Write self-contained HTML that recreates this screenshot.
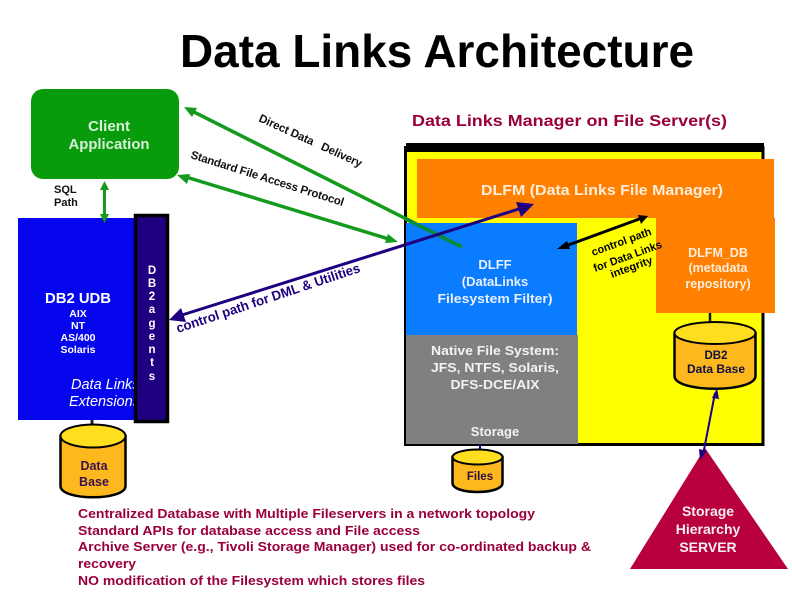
<!DOCTYPE html>
<html><head><meta charset="utf-8"><style>
html,body{margin:0;padding:0;background:#fff;width:792px;height:612px;overflow:hidden}
svg{display:block;font-family:"Liberation Sans",sans-serif}
</style></head><body>
<svg width="792" height="612" viewBox="0 0 792 612" xmlns="http://www.w3.org/2000/svg">
<text x="180" y="67" font-size="46" font-weight="bold" textLength="514" lengthAdjust="spacingAndGlyphs" fill="#000">Data Links Architecture</text>
<text x="412" y="126" font-size="16" font-weight="bold" textLength="315" lengthAdjust="spacingAndGlyphs" fill="#99003c">Data Links Manager on File Server(s)</text>

<!-- client -->
<rect x="31" y="89" width="148" height="90" rx="12" fill="#089c0c"/>
<g fill="#d8f0d8" font-size="14.500" text-anchor="middle" font-weight="bold">
<text x="109" y="131" textLength="42" lengthAdjust="spacingAndGlyphs">Client</text>
<text x="109" y="149" textLength="81" lengthAdjust="spacingAndGlyphs">Application</text>
</g>
<g font-size="11" font-weight="bold" fill="#111">
<text x="54" y="193">SQL</text><text x="54" y="206">Path</text></g>

<!-- DB2 -->
<rect x="18" y="218" width="118" height="202" fill="#0505ee"/>
<text x="78" y="303" font-size="15" font-weight="bold" fill="#fff" text-anchor="middle" textLength="66" lengthAdjust="spacingAndGlyphs">DB2 UDB</text>
<g font-size="10.500" fill="#fff" text-anchor="middle" font-weight="bold">
<text x="78" y="317">AIX</text><text x="78" y="329">NT</text><text x="78" y="341">AS/400</text><text x="78" y="353">Solaris</text></g>
<g font-size="14.500" font-style="italic" fill="#fff">
<text x="71" y="389">Data Links</text><text x="69" y="406">Extensions</text></g>
<rect x="135.500" y="215.500" width="32" height="206" fill="#1f0080" stroke="#000" stroke-width="3.500"/>
<g font-size="11.500" font-weight="bold" fill="#fff" text-anchor="middle">
<text x="152" y="274">D</text><text x="152" y="287">B</text><text x="152" y="300">2</text><text x="152" y="313">a</text><text x="152" y="327">g</text><text x="152" y="340">e</text><text x="152" y="353">n</text><text x="152" y="366">t</text><text x="152" y="380">s</text></g>

<!-- cylinder Data Base -->
<line x1="92" y1="420" x2="92" y2="428" stroke="#222" stroke-width="3"/>
<path d="M60.500 436V486C60.500 501 125.500 501 125.500 486V436Z" fill="#fdb81d" stroke="#000" stroke-width="2.500"/>
<ellipse cx="93" cy="436" rx="32.500" ry="11.500" fill="#ffdd1f" stroke="#000" stroke-width="2"/>
<g font-size="12.500" font-weight="bold" fill="#3a1050" text-anchor="middle">
<text x="94" y="470">Data</text><text x="94" y="486">Base</text></g>

<!-- server box -->
<rect x="405.500" y="147.500" width="357.500" height="297" fill="#ffff00" stroke="#000" stroke-width="3"/>
<rect x="406" y="143" width="358" height="9" fill="#000"/>
<rect x="417" y="159" width="357" height="59" fill="#ff8000"/>
<rect x="656" y="218" width="119" height="95" fill="#ff8000"/>
<rect x="406" y="223" width="171" height="112" fill="#0a7cff"/>
<rect x="406" y="335" width="172" height="109" fill="#808080"/>
<text x="481" y="195" font-size="15" font-weight="bold" fill="#ffeedd" textLength="242" lengthAdjust="spacingAndGlyphs">DLFM (Data Links File Manager)</text>
<g font-size="13" font-weight="bold" fill="#e8f0ff" text-anchor="middle">
<text x="495" y="269">DLFF</text><text x="495" y="286">(DataLinks</text><text x="495" y="303" textLength="115" lengthAdjust="spacingAndGlyphs">Filesystem Filter)</text></g>
<g font-size="13" font-weight="bold" fill="#f2f2f2" text-anchor="middle">
<text x="495" y="355" textLength="128" lengthAdjust="spacingAndGlyphs">Native File System:</text><text x="495" y="372" textLength="128" lengthAdjust="spacingAndGlyphs">JFS, NTFS, Solaris,</text><text x="495" y="389" textLength="89" lengthAdjust="spacingAndGlyphs">DFS-DCE/AIX</text><text x="495" y="436">Storage</text></g>
<g font-size="12.500" font-weight="bold" fill="#ffeedd" text-anchor="middle">
<text x="718" y="257">DLFM_DB</text><text x="718" y="272">(metadata</text><text x="718" y="288">repository)</text></g>

<!-- DB2 cylinder -->
<line x1="710" y1="313" x2="710" y2="332" stroke="#111" stroke-width="2.500"/>
<path d="M674.500 333V376C674.500 393 755.500 393 755.500 376V333Z" fill="#fdb81d" stroke="#000" stroke-width="2.500"/>
<ellipse cx="715" cy="333" rx="40.500" ry="11" fill="#ffdd1f" stroke="#000" stroke-width="2"/>
<g font-size="11.500" font-weight="bold" fill="#101040" text-anchor="middle">
<text x="716" y="359">DB2</text><text x="716" y="373" textLength="58" lengthAdjust="spacingAndGlyphs">Data Base</text></g>

<!-- Files cylinder -->
<line x1="480" y1="444" x2="480" y2="452" stroke="#1f0080" stroke-width="2"/>
<path d="M452.500 457V483C452.500 495 502.500 495 502.500 483V457Z" fill="#fdb81d" stroke="#000" stroke-width="2.500"/>
<ellipse cx="477.500" cy="457" rx="25" ry="7.500" fill="#ffdd1f" stroke="#000" stroke-width="2"/>
<text x="480" y="480" font-size="11.500" font-weight="bold" fill="#2a1040" text-anchor="middle">Files</text>

<!-- triangle -->
<polygon points="705,448 788,569 630,569" fill="#b8003c"/>
<g font-size="14" font-weight="bold" fill="#f4f0f0" text-anchor="middle">
<text x="708" y="516">Storage</text><text x="708" y="534">Hierarchy</text><text x="708" y="552">SERVER</text></g>

<!-- connectors -->
<g stroke="#149a1c" stroke-width="3.500" fill="#149a1c">
<line x1="190" y1="110" x2="462" y2="247"/>
<line x1="186" y1="177" x2="392" y2="240"/>
<line x1="104.500" y1="186" x2="104.500" y2="218" stroke-width="3"/>
</g>
<line x1="406" y1="219" x2="462" y2="247" stroke="#0a8a3a" stroke-width="3.500"/>
<g fill="#149a1c">
<polygon points="184,107 197,108 192,117"/>
<polygon points="177,175 190,174 187,184"/>
<polygon points="398,242 385,243 388,234"/>
<polygon points="104.500,181 100,190 109,190"/>
<polygon points="104.500,223 100,214 109,214"/>
</g>
<line x1="182" y1="315" x2="522" y2="208" stroke="#1f0080" stroke-width="3"/>
<polygon points="534,204 516,202 521,217" fill="#1f0080"/>
<polygon points="169,320 181,308 186,322" fill="#1f0080"/>
<line x1="563" y1="247" x2="642" y2="218" stroke="#000" stroke-width="3"/>
<polygon points="557,249 567,241 570,249" fill="#000"/>
<polygon points="648,216 638,215 641,224" fill="#000"/>
<line x1="715" y1="393" x2="703" y2="455" stroke="#1f0080" stroke-width="2"/>
<polygon points="717,388 712,398 719,399" fill="#1f0080"/>
<polygon points="700,460 699,449 707,451" fill="#1f0080"/>

<!-- rotated labels -->
<g font-size="11.500" fill="#111" font-weight="bold">
<text transform="translate(258,121) rotate(24.500)" textLength="112" lengthAdjust="spacing" xml:space="preserve">Direct Data   Delivery</text>
<text transform="translate(190,158) rotate(17.500)" textLength="160" lengthAdjust="spacing">Standard File Access Protocol</text>
</g>
<text transform="translate(178,333) rotate(-18.500)" font-size="13.500" font-weight="bold" fill="#1f0080" textLength="193" lengthAdjust="spacingAndGlyphs">control path for DML &amp; Utilities</text>
<g font-size="11" font-weight="bold" fill="#000">
<text transform="translate(593,256) rotate(-20)" textLength="63" lengthAdjust="spacingAndGlyphs">control path</text>
<text transform="translate(595,272) rotate(-20)" textLength="72" lengthAdjust="spacingAndGlyphs">for Data Links</text>
<text transform="translate(612,278) rotate(-20)" textLength="44" lengthAdjust="spacingAndGlyphs">integrity</text>
</g>

<!-- bottom text -->
<g font-size="13" font-weight="bold" fill="#99003c">
<text x="78" y="518" textLength="457" lengthAdjust="spacingAndGlyphs">Centralized Database with Multiple Fileservers in a network topology</text>
<text x="78" y="535" textLength="342" lengthAdjust="spacingAndGlyphs">Standard APIs for database access and File access</text>
<text x="78" y="551" textLength="513" lengthAdjust="spacingAndGlyphs">Archive Server (e.g., Tivoli Storage Manager) used for co-ordinated backup &amp;</text>
<text x="78" y="568" textLength="58" lengthAdjust="spacingAndGlyphs">recovery</text>
<text x="78" y="585" textLength="347" lengthAdjust="spacingAndGlyphs">NO modification of the Filesystem which stores files</text>
</g>
</svg>
</body></html>
